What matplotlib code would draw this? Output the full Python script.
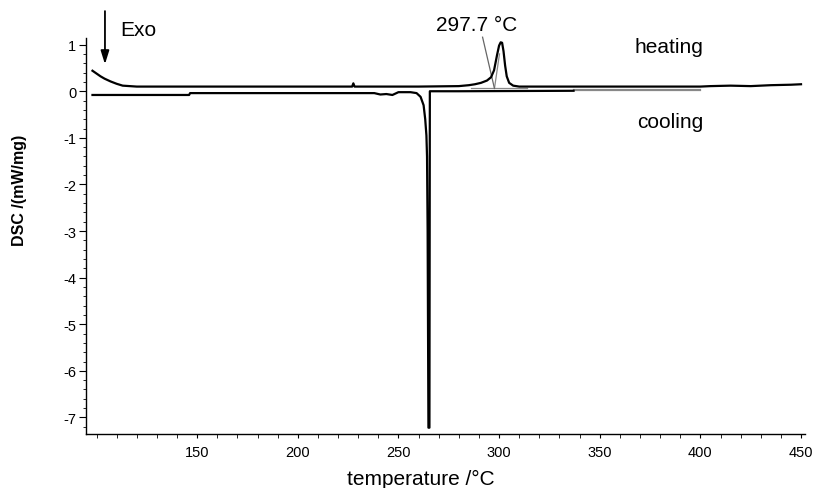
import matplotlib
matplotlib.use("Agg")
import matplotlib.pyplot as plt
from matplotlib.ticker import MultipleLocator

plt.rcParams["font.family"] = ["Liberation Sans", "DejaVu Sans"]
plt.rcParams["axes.unicode_minus"] = False

# heating run (upper trace)
heat_t = [98, 100, 102, 104, 107, 110, 113, 120, 150, 200, 227, 227.6, 228.2, 260,
          280, 285, 288, 291, 294, 296, 297.5, 299, 300, 300.8, 301.5, 302.2, 303,
          303.8, 305, 307, 310, 340, 400, 405, 415, 425, 435, 445, 450]
heat_y = [0.44, 0.38, 0.32, 0.27, 0.21, 0.16, 0.12, 0.1, 0.1, 0.1, 0.1, 0.17, 0.1, 0.1,
          0.11, 0.13, 0.15, 0.18, 0.23, 0.3, 0.45, 0.78, 0.98, 1.05, 1.04, 0.86, 0.55,
          0.32, 0.18, 0.12, 0.1, 0.1, 0.1, 0.11, 0.12, 0.11, 0.13, 0.14, 0.15]

# cooling run (lower trace)
cool_t = [98, 146, 146.5, 238, 241, 244, 247, 250, 256, 259, 261, 262.5, 263.3,
          263.9, 264.2, 264.5, 264.9, 265.4, 265.6, 280, 337]
cool_y = [-0.08, -0.08, -0.04, -0.04, -0.07, -0.06, -0.08, -0.02, -0.02, -0.04, -0.12,
          -0.3, -0.6, -0.95, -1.4, -3.0, -7.22, -7.22, 0.0, 0.0, 0.01]
cool_tail_t = [337, 400]
cool_tail_y = [0.03, 0.03]

# onset construction
onset_t = 297.7
base_t = [286, 314]
base_y = [0.06, 0.06]
tang_t = [297.7, 300.2]
tang_y = [0.06, 0.80]
ptr_t = [291.8, 297.7]
ptr_y = [1.16, 0.06]

fig = plt.figure(figsize=(8.14, 4.89), dpi=100, facecolor="white")
ax = fig.add_axes([0.1057, 0.110, 0.8833, 0.810])

ax.plot(base_t, base_y, color="#888888", lw=0.9)
ax.plot(tang_t, tang_y, color="#888888", lw=0.9)
ax.plot(ptr_t, ptr_y, color="#666666", lw=0.9, clip_on=False)
ax.plot(cool_tail_t, cool_tail_y, color="#888888", lw=1.6)
ax.plot(heat_t, heat_y, color="black", lw=1.6)
ax.plot(cool_t, cool_y, color="black", lw=1.6)

ax.set_xlim(94.8, 452)
ax.set_ylim(-7.36, 1.14)
ax.xaxis.set_major_locator(MultipleLocator(50))
ax.xaxis.set_minor_locator(MultipleLocator(10))
ax.yaxis.set_major_locator(MultipleLocator(1))
ax.yaxis.set_minor_locator(MultipleLocator(0.2))
ax.set_xticks([150, 200, 250, 300, 350, 400, 450])
ax.tick_params(axis="both", direction="out", labelsize=10.5, width=0.8)
ax.tick_params(axis="x", which="both", length=3, pad=5)
ax.tick_params(axis="y", which="major", length=5, pad=2)
ax.tick_params(axis="y", which="minor", length=2.5)
for s in ["top", "right"]:
    ax.spines[s].set_visible(False)
for s in ["left", "bottom"]:
    ax.spines[s].set_linewidth(1.0)

ax.set_xlabel("temperature /°C", fontsize=15, va="center")
ax.xaxis.set_label_coords(0.465, -0.111)
fig.text(0.024, 1 - 190 / 489, "DSC /(mW/mg)", rotation=90, fontsize=11.5,
         fontweight="bold", ha="center", va="center")

ax.annotate("", xy=(104.2, 0.58), xytext=(104.2, 1.72), annotation_clip=False,
            arrowprops=dict(arrowstyle="-|>,head_width=0.25,head_length=0.8",
                            color="black", lw=1.3, shrinkA=0, shrinkB=0))
ax.text(112, 1.32, "Exo", fontsize=15, ha="left", va="center", clip_on=False)
ax.text(289, 1.44, f"{onset_t} °C", fontsize=15, ha="center", va="center", clip_on=False)
ax.text(384.5, 0.95, "heating", fontsize=15, ha="center", va="center")
ax.text(385, -0.66, "cooling", fontsize=15, ha="center", va="center")

fig.savefig("out.png", dpi=100, facecolor="white")
